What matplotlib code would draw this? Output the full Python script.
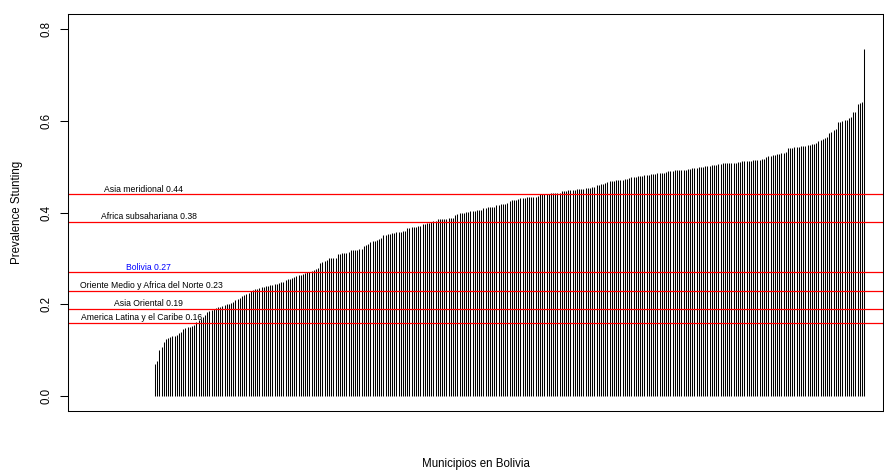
import numpy as np
import matplotlib.pyplot as plt

plt.rcParams['font.family'] = ['Liberation Sans', 'DejaVu Sans']

# prevalencia de desnutricion cronica por municipio, ordenada de menor a mayor
prevalence = [
    0.070, 0.076, 0.100, 0.107, 0.118, 0.124,
    0.127, 0.128, 0.130, 0.131, 0.133, 0.137, 0.140,
    0.146, 0.148, 0.150, 0.151, 0.153, 0.155,
    0.161, 0.165, 0.169, 0.173, 0.177,
    0.183, 0.185, 0.188, 0.190, 0.192,
    0.194, 0.195, 0.197, 0.198, 0.200, 0.201, 0.203, 0.205,
    0.209, 0.212, 0.214, 0.217, 0.220, 0.222, 0.225, 0.228, 0.231,
    0.233, 0.234, 0.236, 0.237, 0.238, 0.239, 0.240, 0.242, 0.243, 0.244, 0.245, 0.247, 0.248, 0.249,
    0.253, 0.255, 0.256, 0.258, 0.259, 0.261, 0.263, 0.264, 0.266, 0.268,
    0.270, 0.271, 0.273, 0.275, 0.277, 0.279,
    0.290, 0.292, 0.295, 0.297,
    0.300, 0.300, 0.301, 0.302,
    0.310, 0.310, 0.311, 0.312, 0.312, 0.313,
    0.318, 0.318, 0.319, 0.319, 0.320, 0.320,
    0.328, 0.330, 0.331,
    0.336, 0.338, 0.339, 0.341, 0.342, 0.344,
    0.351, 0.352, 0.353, 0.354, 0.355, 0.356, 0.357, 0.357, 0.358, 0.359, 0.360,
    0.366, 0.367, 0.368, 0.369, 0.369, 0.370, 0.371,
    0.375, 0.376, 0.377, 0.378, 0.379, 0.381, 0.382,
    0.385, 0.385, 0.386, 0.387, 0.387, 0.388, 0.388, 0.389,
    0.395, 0.396, 0.398, 0.399, 0.400, 0.402,
    0.402, 0.403, 0.403, 0.404, 0.405, 0.405, 0.406,
    0.411, 0.411, 0.412, 0.412, 0.413, 0.413,
    0.417, 0.417, 0.418, 0.419, 0.419, 0.420,
    0.426, 0.427, 0.427, 0.428, 0.429,
    0.431, 0.431, 0.432, 0.433, 0.433, 0.434, 0.435, 0.435, 0.436,
    0.440, 0.440, 0.441, 0.441, 0.441, 0.442, 0.442, 0.442, 0.443, 0.443,
    0.446, 0.447, 0.448, 0.449,
    0.449, 0.450, 0.450, 0.451, 0.451, 0.452, 0.452, 0.453, 0.454, 0.454, 0.455, 0.456,
    0.460, 0.461, 0.462, 0.463, 0.464,
    0.467, 0.468, 0.468, 0.469, 0.470, 0.471, 0.471, 0.472, 0.473, 0.474, 0.475,
    0.477, 0.478, 0.478, 0.479, 0.480, 0.480, 0.481, 0.481, 0.482,
    0.484, 0.484, 0.485, 0.486, 0.486, 0.487, 0.487, 0.488,
    0.491, 0.491, 0.491, 0.492, 0.492, 0.492, 0.493, 0.493, 0.493,
    0.495, 0.496, 0.497, 0.497, 0.498, 0.499,
    0.500, 0.500, 0.501, 0.502, 0.502, 0.503, 0.503, 0.504,
    0.506, 0.506, 0.507, 0.507, 0.507, 0.508, 0.508, 0.509, 0.509,
    0.511, 0.511, 0.512, 0.512, 0.512, 0.513, 0.513, 0.514, 0.514, 0.515, 0.515, 0.516, 0.516,
    0.522, 0.523, 0.524, 0.525, 0.526, 0.527, 0.528, 0.529, 0.530, 0.531,
    0.540, 0.541, 0.541, 0.542, 0.543, 0.544, 0.545, 0.545, 0.546, 0.547, 0.548, 0.549, 0.550, 0.551,
    0.557, 0.559, 0.560, 0.562, 0.564,
    0.573, 0.576, 0.579, 0.582,
    0.597, 0.598, 0.599, 0.601, 0.602,
    0.606, 0.609, 0.619, 0.620,
    0.636, 0.639, 0.642, 0.757,
]

# referencias regionales
regions = ['Asia meridional', 'Africa subsahariana', 'Bolivia',
           'Oriente Medio y Africa del Norte', 'Asia Oriental',
           'America Latina y el Caribe']
region_values = [0.44, 0.38, 0.27, 0.23, 0.19, 0.16]
label_x = [-4.5, -1.8, -2.2, -0.8, -1.8, -5.0]
label_colors = ['black', 'black', 'blue', 'black', 'black', 'black']

y = np.array(prevalence)
x = np.arange(1, len(y) + 1)

fig = plt.figure(figsize=(8.84, 4.72), dpi=100)
ax = fig.add_axes([68 / 884, 61 / 472, 815 / 884, 397 / 472])

ax.vlines(x, 0, y, color='black', linewidth=0.75)

for name, val, lx, col in zip(regions, region_values, label_x, label_colors):
    ax.axhline(val, color='red', linewidth=0.9)
    ax.text(lx, val + 0.011, f'{name} {val:.2f}', color=col, fontsize=6.2,
            ha='center', va='center')

ax.set_xlim(-39, 335.7)
ax.set_ylim(-0.0327, 0.833)
ax.set_xticks([])
ax.set_yticks([0.0, 0.2, 0.4, 0.6, 0.8])
ax.set_yticklabels(['0.0', '0.2', '0.4', '0.6', '0.8'], rotation=90, va='center')
ax.tick_params(axis='y', length=6, width=0.75, pad=5, labelsize=8.3)
for s in ax.spines.values():
    s.set_linewidth(0.75)

ax.set_ylabel('Prevalence Stunting', fontsize=8.3)
ax.yaxis.set_label_coords(-0.055, 0.5)
ax.set_xlabel('Municipios en Bolivia', fontsize=8.3)
ax.xaxis.set_label_coords(0.5, -0.118)

fig.savefig('out.png', dpi=100)
